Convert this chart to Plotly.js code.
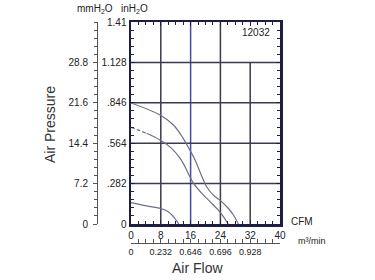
<!DOCTYPE html>
<html><head><meta charset="utf-8">
<script src="https://cdn.plot.ly/plotly-3.0.1.min.js"></script>
<style>html,body{margin:0;padding:0;background:#fff}#c{width:375px;height:280px}</style>
</head><body><div id="c"></div>
<script>
// CFM (x) vs inH2O (y)
const curveHighX = [0, 7.8, 11.4, 14.0, 15.8, 17.2, 18.5, 20.3, 22.1, 24.3, 26.1, 27.5, 28.8];
const curveHighY = [0.845, 0.761, 0.691, 0.598, 0.516, 0.447, 0.365, 0.26, 0.202, 0.156, 0.11, 0.063, 0.0];
const curveMidDashX = [0, 2.0, 4.2];
const curveMidDashY = [0.675, 0.655, 0.633];
const curveMidX = [4.2, 7.8, 10.9, 13.2, 14.5, 15.8, 16.9, 19.0, 21.2, 23.4, 24.8, 26.1];
const curveMidY = [0.633, 0.586, 0.528, 0.458, 0.4, 0.33, 0.28, 0.214, 0.156, 0.098, 0.051, 0.0];
const curveLowX = [0, 4.2, 7.8, 10.0, 11.4, 12.8];
const curveLowY = [0.149, 0.126, 0.109, 0.086, 0.051, 0.0];

const cfmTicks = [0, 8, 16, 24, 32, 40];
const m3Ticks = [0, 8, 16, 24, 32];
const m3Labels = ['0', '0.232', '0.646', '0.696', '0.928'];
const inTicks = [0, 0.282, 0.564, 0.846, 1.128, 1.41];
const inLabels = ['0', '.282', '.564', '.846', '1.128', '1.41'];
const mmTicks = [0, 7.2, 14.4, 21.6, 28.8];
const mmLabels = ['0', '7.2', '14.4', '21.6', '28.8'];
const gridX = [8, 16, 24, 32];
const gridXTop = [1.41, 1.41, 1.41, 1.128];
const gridY = [0.282, 0.564, 0.846, 1.128];

const curveColor = '#6e6e8c';
const gridColor = '#3a3a50';
const axisColor = '#1e1e44';
const font = {family: 'Liberation Sans, Arial, sans-serif', size: 10, color: '#222'};

const traces = [
  {x: curveHighX, y: curveHighY, mode: 'lines', line: {color: curveColor, width: 1.2, shape: 'spline'}, hoverinfo: 'skip'},
  {x: curveMidDashX, y: curveMidDashY, mode: 'lines', line: {color: curveColor, width: 1.2, dash: '4px,2px', shape: 'spline'}, hoverinfo: 'skip'},
  {x: curveMidX, y: curveMidY, mode: 'lines', line: {color: curveColor, width: 1.2, shape: 'spline'}, hoverinfo: 'skip'},
  {x: curveLowX, y: curveLowY, mode: 'lines', line: {color: curveColor, width: 1.2, shape: 'spline'}, hoverinfo: 'skip'},
  {x: [0], y: [0], xaxis: 'x2', yaxis: 'y2', mode: 'markers', marker: {opacity: 0}, hoverinfo: 'skip'}
];

const shapes = [];
gridX.forEach((gx, i) => shapes.push({type: 'line', xref: 'x', yref: 'y', x0: gx, x1: gx, y0: 0, y1: gridXTop[i],
  line: {color: gx === 16 ? '#4a4aa0' : gridColor, width: 1.5}, layer: 'below'}));
gridY.forEach(gy => shapes.push({type: 'line', xref: 'x', yref: 'y', x0: 0, x1: 40, y0: gy, y1: gy,
  line: {color: gridColor, width: 1.5}, layer: 'below'}));

const layout = {
  width: 375, height: 280,
  margin: {l: 0, r: 0, t: 0, b: 0},
  paper_bgcolor: '#fff', plot_bgcolor: '#fff',
  showlegend: false,
  font: font,
  xaxis: {domain: [131/375, 280/375], range: [0, 40], tickvals: cfmTicks, ticks: 'inside', ticklen: 4,
    tickcolor: axisColor, showline: true, linecolor: axisColor, linewidth: 2.5, mirror: 'ticks',
    showgrid: false, zeroline: false, fixedrange: true, tickfont: font,
    minor: {dtick: 2, ticks: 'inside', ticklen: 3, tickcolor: axisColor, showgrid: false}},
  yaxis: {domain: [56/280, 258/280], range: [0, 1.41], tickvals: inTicks, ticktext: inLabels, ticks: 'inside', ticklen: 4,
    tickcolor: axisColor, showline: true, linecolor: axisColor, linewidth: 2.5, mirror: 'ticks',
    showgrid: false, zeroline: false, fixedrange: true, tickfont: font,
    minor: {dtick: 0.0564, ticks: 'inside', ticklen: 3, tickcolor: axisColor, showgrid: false}},
  xaxis2: {overlaying: 'x', anchor: 'free', position: 37/280, side: 'bottom', range: [0, 40],
    tickvals: m3Ticks, ticktext: m3Labels, ticks: 'inside', ticklen: 4, tickcolor: '#555',
    showline: true, linecolor: '#555', linewidth: 1, showgrid: false, zeroline: false, fixedrange: true,
    tickfont: {family: font.family, size: 9, color: '#222'},
    minor: {dtick: 2, ticks: 'inside', ticklen: 4, tickcolor: '#555', showgrid: false}},
  yaxis2: {overlaying: 'y', anchor: 'free', position: 97/375, side: 'left', range: [0, 36],
    tickvals: mmTicks, ticktext: mmLabels, ticks: 'outside', ticklen: 4, tickcolor: '#555',
    showline: true, linecolor: '#555', linewidth: 1, showgrid: false, zeroline: false, fixedrange: true,
    tickfont: font, ticklabelstandoff: 3,
    minor: {dtick: 1.44, ticks: 'outside', ticklen: 3, tickcolor: '#555', showgrid: false}},
  shapes: shapes,
  annotations: [
    {text: 'mmH<sub>2</sub>O', x: 95/375, y: 1 - 9/280, xref: 'paper', yref: 'paper', showarrow: false, font: {family: font.family, size: 10, color: '#222'}, xanchor: 'center', yanchor: 'middle'},
    {text: 'inH<sub>2</sub>O', x: 134/375, y: 1 - 9/280, xref: 'paper', yref: 'paper', showarrow: false, font: {family: font.family, size: 10, color: '#222'}, xanchor: 'center', yanchor: 'middle'},
    {text: '12032', x: 272/375, y: 1 - 32/280, xref: 'paper', yref: 'paper', showarrow: false, font: {family: font.family, size: 10, color: '#222'}, xanchor: 'right', yanchor: 'middle'},
    {text: 'CFM', x: 289/375, y: 1 - 221/280, xref: 'paper', yref: 'paper', showarrow: false, font: {family: font.family, size: 10, color: '#222'}, xanchor: 'left', yanchor: 'middle'},
    {text: 'm³/min', x: 296/375, y: 1 - 241/280, xref: 'paper', yref: 'paper', showarrow: false, font: {family: font.family, size: 9, color: '#222'}, xanchor: 'left', yanchor: 'middle'},
    {text: 'Air Flow', x: 197/375, y: 1 - 268/280, xref: 'paper', yref: 'paper', showarrow: false, font: {family: font.family, size: 14, color: '#333'}, xanchor: 'center', yanchor: 'middle'},
    {text: 'Air Pressure', x: 50/375, y: 1 - 125/280, xref: 'paper', yref: 'paper', showarrow: false, textangle: -90, font: {family: font.family, size: 14, color: '#333'}, xanchor: 'center', yanchor: 'middle'}
  ]
};

Plotly.newPlot('c', traces, layout, {staticPlot: true, displayModeBar: false});
</script></body></html>
